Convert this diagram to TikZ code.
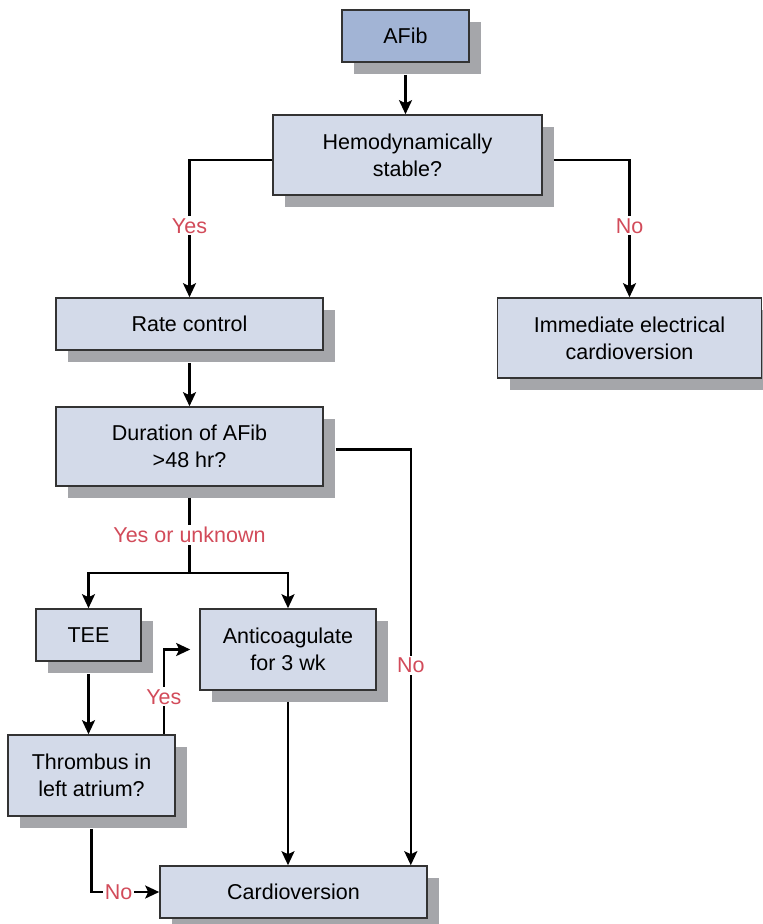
\documentclass[tikz,border=0pt]{standalone}
\usepackage{fontspec}
\setmainfont{Liberation Sans}
\usetikzlibrary{arrows.meta,shadows,calc}
\definecolor{boxblue}{HTML}{D3DAE9}
\definecolor{startblue}{HTML}{A2B4D5}
\definecolor{shadowgray}{HTML}{A5A6AA}
\definecolor{answerred}{HTML}{D24B5A}
\tikzset{
  box/.style={draw=black!80, line width=1.6pt, fill=boxblue, align=center, inner sep=0pt,
    drop shadow={shadow xshift=12pt, shadow yshift=-12pt, fill=shadowgray, opacity=1}},
  link/.style={line width=2.2pt, -{Stealth[length=14pt,width=13pt,inset=3pt]}},
  plain/.style={line width=2.2pt},
  answer/.style={fill=white, text=answerred, inner sep=2pt},
}
\begin{document}
\begin{tikzpicture}[x=1pt, y=-1pt, font=\fontsize{21.5}{27}\selectfont]
    \useasboundingbox (0,0) rectangle (763,924);

    % Kaestchen
    \node[box, fill=startblue, minimum width=127pt, minimum height=52pt] (afib) at (405.5,36) {AFib};
    \node[box, minimum width=269pt, minimum height=80pt] (hemo) at (407.5,155) {Hemodynamically\\stable?};
    \node[box, minimum width=267pt, minimum height=52pt] (rate) at (189.5,324) {Rate control};
    \node[box, minimum width=264pt, minimum height=80pt] (immed) at (629.5,338) {Immediate electrical\\cardioversion};
    \node[box, minimum width=267pt, minimum height=79pt] (duration) at (189.5,446.5) {Duration of AFib\\>48 hr?};
    \node[box, minimum width=105pt, minimum height=52pt] (tee) at (88.5,635) {TEE};
    \node[box, minimum width=176pt, minimum height=81pt] (anti) at (288,649.5) {Anticoagulate\\for 3 wk};
    \node[box, minimum width=167pt, minimum height=81pt] (thromb) at (91.5,775.5) {Thrombus in\\left atrium?};
    \node[box, minimum width=267pt, minimum height=52pt] (cardio) at (293.5,892) {Cardioversion};

    % Verbindungen
    \draw[link, shorten <=12pt] (afib.south) -- (afib.south |- hemo.north);
    \draw[link] ($(hemo.west)+(0,5)$) -| (rate.north) node[answer, pos=0.74] {Yes};
    \draw[link] ($(hemo.east)+(11,5)$) -| (immed.north) node[answer, pos=0.74] {No};
    \draw[link, shorten <=12pt] (rate.south) -- (duration.north);
    \draw[link] ($(duration.east)+(12,3)$) -| ($(cardio.north east)+(-17,0)$) node[answer, pos=0.76] {No};

    \draw[plain, shorten <=11pt] (duration.south) -- ++(0,86) coordinate (split)
        node[answer, pos=0.56] {Yes or unknown};
    \draw[link] (split) -| (tee.north);
    \draw[link] (split) -| (anti.north);

    \draw[link, shorten <=12pt] (tee.south) -- (tee.south |- thromb.north);
    \draw[link, shorten >=9pt] ($(thromb.north east)+(-12,0)$) |- (anti.west) node[answer, pos=0.22] {Yes};
    \draw[link, shorten <=12pt] (thromb.south) |- (cardio.west) node[answer, pos=0.7] {No};
    \draw[link, shorten <=11pt] (anti.south) -- (anti.south |- cardio.north);
\end{tikzpicture}
\end{document}
